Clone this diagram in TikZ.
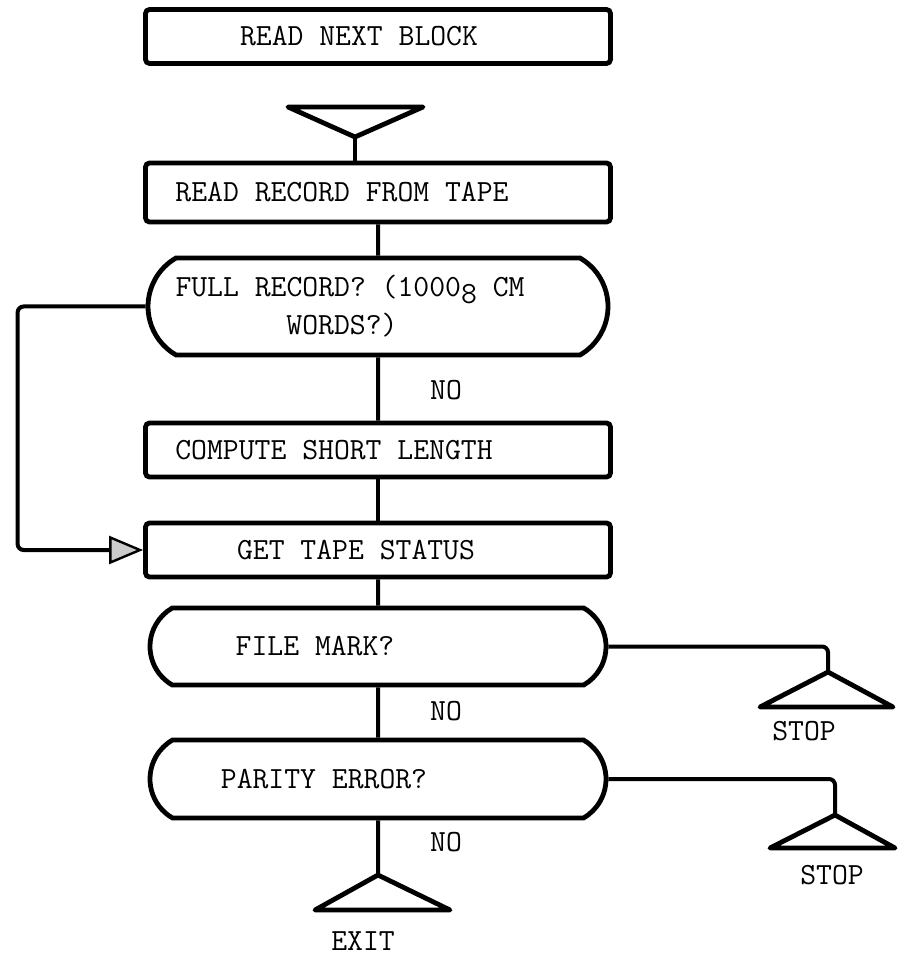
\documentclass[tikz,border=0pt]{standalone}
\usetikzlibrary{arrows.meta,shapes.misc}
\newcommand{\flowfont}{\fontsize{15.4}{19}\selectfont\ttfamily}

\begin{document}
\begin{tikzpicture}[x=0.5pt, y=-0.5pt,
  pbox/.style={rectangle, rounded corners=2pt, draw, line width=2.4pt,
               minimum width=232.5pt, minimum height=27pt, inner sep=0pt,
               font=\flowfont},
  dbox/.style={rounded rectangle, rounded rectangle arc length=120, draw,
               line width=2.4pt, minimum width=228pt, inner sep=0pt,
               font=\flowfont, align=center},
  lbl/.style={font=\flowfont, inner sep=0pt},
  term/.style={draw, line width=2.4pt, line join=round},
  conn/.style={draw, line width=2pt, rounded corners=3pt},
  arr/.style={-{Triangle[length=17pt, width=14pt, fill=gray!40, line width=1.2pt]},
              line width=2pt, rounded corners=3pt}
]
\useasboundingbox (0,0) rectangle (898,956);

% Title box
\node[pbox] (blk) at (378,36.5) {READ NEXT BLOCK\hspace*{19pt}};

% Entry
\coordinate (entry) at (355,137);
\draw[term] (entry) -- (288,107) -- (423,107) -- cycle;

% Process and decision boxes
\node[pbox, minimum height=29.5pt] (rec) at (378,192.5) {READ RECORD FROM TAPE\hspace*{36pt}};
\node[dbox, minimum width=230pt, minimum height=48.5pt] (full) at (378,306.5)
  {FULL RECORD? (1000\raisebox{-0.5ex}{8} CM\hspace*{28pt}\\WORDS?)\hspace*{36pt}};
\node[pbox] (cmp) at (378,450) {COMPUTE SHORT LENGTH\hspace*{44pt}};
\node[pbox] (sts) at (378,550) {GET TAPE STATUS\hspace*{22pt}};
\node[dbox, minimum height=38.5pt] (fmk) at (378,646.5) {FILE MARK?\hspace*{63pt}};
\node[dbox, minimum height=39pt] (prt) at (378,779) {PARITY ERROR?\hspace*{54pt}};

% Branch labels
\node[lbl] (no1) at (446,390) {NO};
\node[lbl] (no2) at (446,711) {NO};
\node[lbl] (no3) at (446,842) {NO};

% Terminals
\coordinate (stopa) at (828,672);
\draw[term] (stopa) -- (760,707) -- (893,707) -- cycle;
\node[lbl] (stopatxt) at (804,731) {STOP};

\coordinate (stopb) at (835,815);
\draw[term] (stopb) -- (770,848) -- (895,848) -- cycle;
\node[lbl] (stopbtxt) at (832,875) {STOP};

\coordinate (exit) at (378,875);
\draw[term] (exit) -- (315,910) -- (450,910) -- cycle;
\node[lbl] (exittxt) at (363,941) {EXIT};

% Connectors
\draw[conn] (entry) -- (entry |- rec.north);
\draw[conn] (rec) -- (full);
\draw[conn] (full) -- (cmp);
\draw[conn] (cmp) -- (sts);
\draw[conn] (sts) -- (fmk);
\draw[conn] (fmk) -- (prt);
\draw[conn] (prt) -- (exit);
\draw[conn] (fmk.east) -| (stopa);
\draw[conn] (prt.east) -| (stopb);
\draw[arr] (full.west) -- ++(-128,0) |- (sts.west);
\end{tikzpicture}
\end{document}
